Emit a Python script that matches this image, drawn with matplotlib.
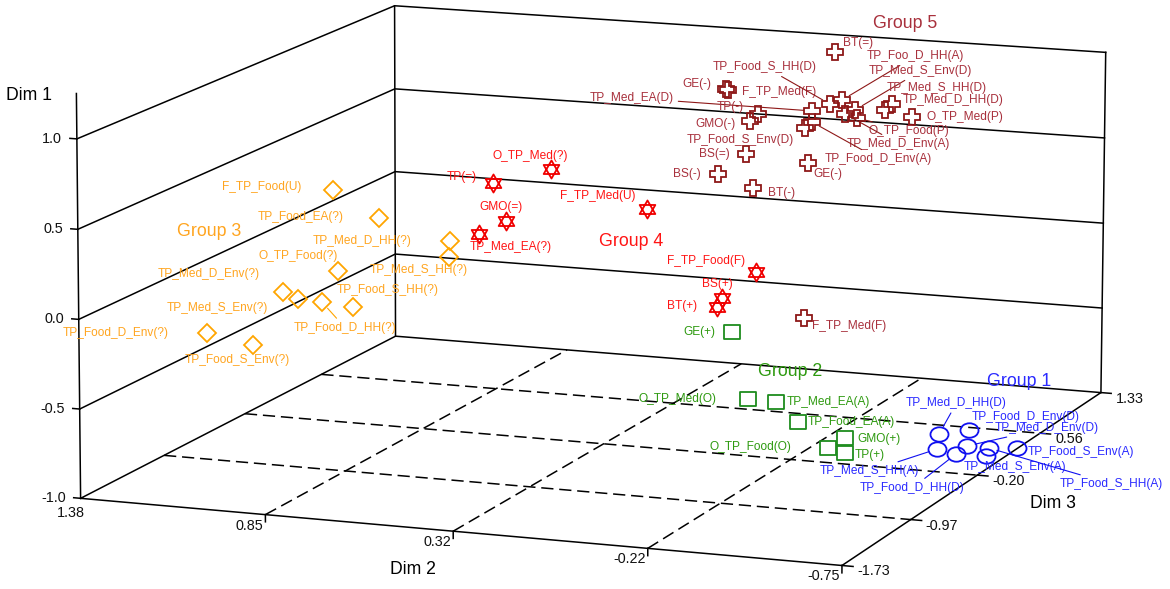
import numpy as np
import matplotlib
matplotlib.use('Agg')
import matplotlib.pyplot as plt
from matplotlib.path import Path
from mpl_toolkits.mplot3d import proj3d

plt.rcParams['font.family'] = ['Liberation Sans', 'DejaVu Sans']

# axis ranges / ticks
dim1_ticks = [-1.0, -0.5, 0.0, 0.5, 1.0]
dim2_ticks = [1.38, 0.85, 0.32, -0.22, -0.75]
dim3_ticks = [-1.73, -0.97, -0.20, 0.56, 1.33]

# Group 1
g1_labels = ['TP_Med_D_HH(D)', 'TP_Food_D_Env(D)', 'TP_Med_D_Env(D)', 'TP_Food_S_Env(A)',
             'TP_Med_S_Env(A)', 'TP_Food_S_HH(A)', 'TP_Med_S_HH(A)', 'TP_Food_D_HH(D)']
g1_dim1 = [-0.97, -0.97, -0.97, -0.97, -0.97, -0.97, -0.97, -0.97]
g1_dim2 = [-0.515, -0.576, -0.633, -0.767, -0.719, -0.696, -0.569, -0.636]
g1_dim3 = [0.326, 0.432, 0.168, 0.202, 0.032, 0.165, 0.079, 0.024]

# Group 2
g2_labels = ['GE(+)', 'O_TP_Med(O)', 'TP_Med_EA(A)', 'TP_Food_EA(A)', 'O_TP_Food(O)', 'GMO(+)', 'TP(+)']
g2_dim1 = [-0.366, -0.744, -0.748, -0.853, -0.988, -0.922, -1.009]
g2_dim2 = [0.002, -0.045, -0.126, -0.189, -0.276, -0.325, -0.325]
g2_dim3 = [0.0, 0.0, 0.0, 0.0, 0.0, 0.0, 0.0]

# Group 3
g3_labels = ['F_TP_Food(U)', 'TP_Food_EA(?)', 'TP_Med_D_HH(?)', 'TP_Med_S_HH(?)', 'O_TP_Food(?)',
             'TP_Med_D_Env(?)', 'TP_Med_S_Env(?)', 'TP_Food_D_HH(?)', 'TP_Food_S_HH(?)',
             'TP_Food_D_Env(?)', 'TP_Food_S_Env(?)']
g3_dim1 = [0.530, 0.391, 0.291, 0.201, 0.073, -0.070, -0.104, -0.110, -0.124, -0.339, -0.386]
g3_dim2 = [0.934, 0.801, 0.596, 0.599, 0.920, 1.081, 1.037, 0.967, 0.877, 1.304, 1.169]
g3_dim3 = [-0.8] * 11

# Group 4
g4_labels = ['O_TP_Med(?)', 'TP(=)', 'GMO(=)', 'TP_Med_EA(?)', 'F_TP_Med(U)', 'F_TP_Food(F)', 'BS(+)', 'BT(+)']
g4_dim1 = [0.492, 0.387, 0.173, 0.087, 0.302, -0.012, -0.175, -0.229]
g4_dim2 = [0.530, 0.700, 0.662, 0.741, 0.250, -0.066, 0.032, 0.046]
g4_dim3 = [0.0] * 8

# Group 5
g5_labels = ['BT(=)', 'GE(-)', 'F_TP_Med(F)', 'TP_Food_S_HH(D)', 'TP_Foo_D_HH(A)', 'TP_Med_S_Env(D)',
             'TP_Med_S_HH(D)', 'TP_Med_D_HH(D)', 'O_TP_Med(P)', 'TP_Med_EA(D)', 'TP(-)', 'GMO(-)',
             'TP_Food_S_Env(D)', 'O_TP_Food(P)', 'TP_Med_D_Env(A)', 'TP_Food_D_Env(A)', 'BS(=)', 'BS(-)',
             'BT(-)', 'GE(-)', 'F_TP_Med(F)']
g5_dim1 = [1.102, 0.846, 0.841, 0.800, 0.828, 0.776, 0.825, 0.787, 0.758, 0.753, 0.714, 0.670,
           0.652, 0.730, 0.749, 0.689, 0.477, 0.349, 0.282, 0.450, -0.453]
g5_dim2 = [-0.137, 0.180, 0.174, -0.124, -0.159, -0.197, -0.304, -0.284, -0.362, -0.072, 0.086, 0.109,
           -0.052, -0.203, -0.168, -0.072, 0.120, 0.202, 0.099, -0.061, -0.053]
g5_dim3 = [0.6] * 21

# label offsets in pixels (dx to text left edge, dy up) and leader lines
g1_offsets = [(-33, 31), (3, 13), (28, 18), (11, -4), (-22, -11), (71, -36), (-117, -22), (-96, -34)]
g1_leaders = [True, False, True, False, False, True, True, True]
g2_offsets = [(-49, 0), (-110, 0), (11, 0), (10, 0), (-118, 1), (12, -1), (10, -2)]
g2_leaders = [False] * 7
g3_offsets = [(-111, 3), (-121, 1), (-137, 0), (-79, -13), (-79, 15), (-125, 18), (-131, -9),
              (-28, -26), (-16, 17), (-144, 0), (-68, -15)]
g3_leaders = [False] * 7 + [True] + [False] * 3
g4_offsets = [(-58, 13), (-46, 6), (-26, 14), (-9, -13), (-87, 13), (-89, 11), (-20, 14), (-50, 1)]
g4_leaders = [False] * 8
g5_offsets = [(8, 9), (-44, 5), (14, -2), (-117, 37), (25, 44), (14, 39), (-5, 16), (18, 10), (14, 0),
              (-222, 13), (-41, 7), (-55, -3), (-118, -12), (11, -13), (2, -30), (13, -37), (-47, 0),
              (-45, 0), (15, -5), (5, -11), (8, -8)]
g5_leaders = [False, False, False, True, True, True, False, False, False, True, False, False,
              False, True, True, True, False, False, False, False, False]

hexagram = Path([(0, 1), (-0.866, -0.5), (0.866, -0.5), (0, 1),
                 (0, -1), (-0.866, 0.5), (0.866, 0.5), (0, -1)],
                [Path.MOVETO, Path.LINETO, Path.LINETO, Path.CLOSEPOLY] * 2)
circ = Path.unit_circle()
ellipse = Path(circ.vertices * [1.0, 0.8], circ.codes)
box = Path([(-1, -0.85), (1, -0.85), (1, 0.85), (-1, 0.85), (-1, -0.85)],
           [Path.MOVETO, Path.LINETO, Path.LINETO, Path.LINETO, Path.CLOSEPOLY])

groups = [
    dict(name='Group 1', labels=g1_labels, d1=g1_dim1, d2=g1_dim2, d3=g1_dim3, off=g1_offsets,
         lead=g1_leaders, marker=ellipse, ms=13, mc='#1010F0', tc='#2A2AFF', title_xy=(1019, 381)),
    dict(name='Group 2', labels=g2_labels, d1=g2_dim1, d2=g2_dim2, d3=g2_dim3, off=g2_offsets,
         lead=g2_leaders, marker=box, ms=11.5, mc='#1E8C1E', tc='#2E9A10', title_xy=(790, 372)),
    dict(name='Group 3', labels=g3_labels, d1=g3_dim1, d2=g3_dim2, d3=g3_dim3, off=g3_offsets,
         lead=g3_leaders, marker='D', ms=8.7, mc='#FFA500', tc='#FFA520', title_xy=(209, 232)),
    dict(name='Group 4', labels=g4_labels, d1=g4_dim1, d2=g4_dim2, d3=g4_dim3, off=g4_offsets,
         lead=g4_leaders, marker=hexagram, ms=13, mc='#F00000', tc='#FF1515', title_xy=(631, 241)),
    dict(name='Group 5', labels=g5_labels, d1=g5_dim1, d2=g5_dim2, d3=g5_dim3, off=g5_offsets,
         lead=g5_leaders, marker='P', ms=12, mc='#8E1818', tc='#A8303C', title_xy=(905, 23)),
]

W, H = 1170, 589
fig = plt.figure(figsize=(W / 100, H / 100), dpi=100)
ax = fig.add_axes([0.00983, -0.46705, 0.98900, 1.96458], projection='3d')
x0, x1 = dim2_ticks[0], dim2_ticks[-1]
y0, y1 = dim3_ticks[0], dim3_ticks[-1]
z0, z1 = dim1_ticks[0], dim1_ticks[-1]
ax.set_xlim(x0, x1)
ax.set_ylim(y0, y1)
ax.set_zlim(z0, z1)
ax.set_box_aspect((1.0, 1.0483, 0.4543))
ax.view_init(elev=11.4403, azim=-69.504, roll=-0.1256)
ax.set_proj_type('persp', focal_length=1.3564)
ax.set_axis_off()

line = dict(color='black', lw=1.1)
dash = dict(color='black', lw=1.1, ls=(0, (8, 3.8)))

# floor frame, verticals and wall lines
ax.plot([x0, x1, x1, x0, x0], [y0, y0, y1, y1, y0], [z0] * 5, **line)
ax.plot([x0, x0], [y0, y0], [z0, 1.25], **line)
ax.plot([x0, x0], [y1, y1], [z0, z1], **line)
ax.plot([x1, x1], [y1, y1], [z0, z1], **line)
for v in dim1_ticks[1:]:
    ax.plot([x0, x0, x1], [y0, y1, y1], [v, v, v], **line)
for t in dim3_ticks[1:-1]:
    ax.plot([x0, x1], [t, t], [z0, z0], **dash)
for t in dim2_ticks[1:-1]:
    ax.plot([t, t], [y0, y1], [z0, z0], **dash)

# tick marks
for v in dim1_ticks:
    ax.plot([x0, x0 + 0.02], [y0, y0], [v, v], **line)
for t in dim2_ticks[1:]:
    ax.plot([t, t], [y0, y0], [z0, z0 - 0.04], **line)
for t in dim3_ticks:
    ax.plot([x1, x1 - 0.03], [t, t], [z0, z0], **line)

M = ax.get_proj()


def to2d(x, y, z):
    xs, ys, _ = proj3d.proj_transform(np.atleast_1d(x), np.atleast_1d(y), np.atleast_1d(z), M)
    return float(xs[0]), float(ys[0])


def put(text, xyz, off, **kw):
    ax.annotate(text, xy=to2d(*xyz), xycoords='data', xytext=off, textcoords='offset pixels',
                annotation_clip=False, **kw)


for v in dim1_ticks:
    put(f'{v:.1f}', (x0, y0, v), (-15, 0), ha='right', va='center', fontsize=10.4, color='#111111')
for i, t in enumerate(dim2_ticks):
    off = (4, -15) if i == 0 else (-2, -11)
    put(f'{t:.2f}', (t, y0, z0), off, ha='right', va='center', fontsize=10.4, color='#111111')
for t in dim3_ticks:
    put(f'{t:.2f}', (x1, t, z0), (15, -6), ha='left', va='center', fontsize=10.4, color='#111111')

fig.text(29 / W, 1 - 95 / H, 'Dim 1', ha='center', va='center', fontsize=12.7)
fig.text(413 / W, 1 - 570 / H, 'Dim 2', ha='center', va='center', fontsize=12.7)
fig.text(1053 / W, 1 - 503 / H, 'Dim 3', ha='center', va='center', fontsize=12.7)

for g in groups:
    ax.plot(g['d2'], g['d3'], g['d1'], ls='none', marker=g['marker'], ms=g['ms'],
            mfc='none', mec=g['mc'], mew=1.3)
    for lab, a, b, c, off, lead in zip(g['labels'], g['d2'], g['d3'], g['d1'], g['off'], g['lead']):
        kw = {}
        if lead:
            kw['arrowprops'] = dict(arrowstyle='-', color=g['mc'], lw=0.8, shrinkA=1, shrinkB=6)
        put(lab, (a, b, c), off, ha='left', va='center', fontsize=8.6, color=g['tc'], **kw)
    tx, ty = g['title_xy']
    fig.text(tx / W, 1 - ty / H, g['name'], ha='center', va='center', fontsize=12.8, color=g['tc'])

fig.savefig('out.png', dpi=100, facecolor='white')
